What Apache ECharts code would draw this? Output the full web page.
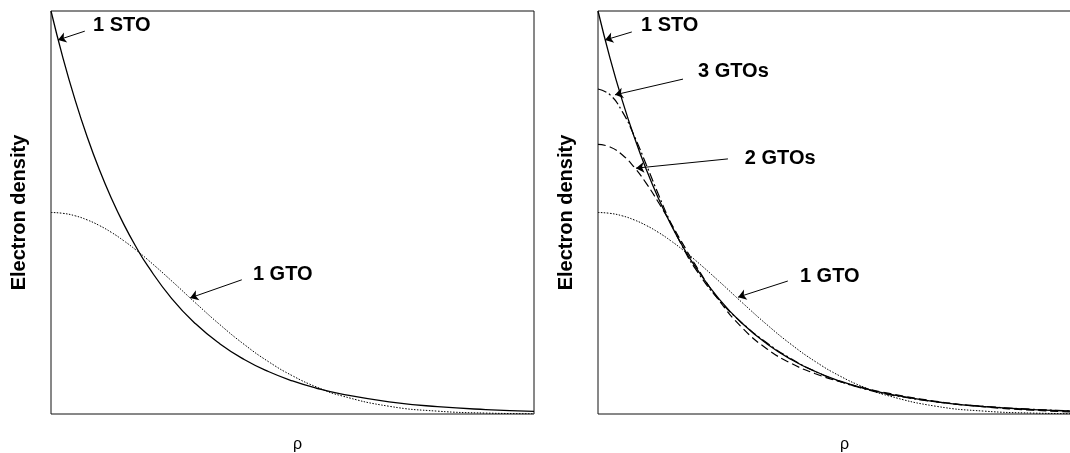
<!DOCTYPE html>
<html>
<head>
<meta charset="utf-8">
<script src="https://cdn.jsdelivr.net/npm/echarts@6/dist/echarts.min.js"></script>
<style>
html,body{margin:0;padding:0;background:#fff;}
#c{width:1070px;height:453px;}
</style>
</head>
<body>
<div id="c"></div>
<script>
// rho (arbitrary units) and relative amplitude values
const rho  = [0,0.25,0.5,0.75,1,1.25,1.5,1.75,2,2.5,3,3.5,4,4.5,5,5.5,6,7,8,9,10];
const sto  = [1,0.8825,0.7788,0.6873,0.6065,0.5353,0.4724,0.4169,0.3679,0.2865,0.2231,0.1738,0.1353,0.1054,0.0821,0.0639,0.0498,0.0302,0.0183,0.0111,0.0067];
const gto1 = [0.5,0.4979,0.4918,0.4816,0.4678,0.4507,0.4305,0.4079,0.3832,0.3300,0.2748,0.2214,0.1726,0.1301,0.0948,0.0669,0.0456,0.0192,0.0071,0.0023,0.0006];
const gto2 = [0.669,0.6627,0.6432,0.6124,0.5722,0.5254,0.4752,0.4234,0.3731,0.2830,0.2123,0.1615,0.1256,0.1000,0.0807,0.0650,0.0519,0.0315,0.0179,0.0094,0.0046];
const gto3 = [0.8065,0.7919,0.7510,0.6902,0.6187,0.5451,0.4758,0.4150,0.3634,0.2836,0.2243,0.1761,0.1369,0.1055,0.0811,0.0627,0.0488,0.0303,0.0190,0.0117,0.0069];

const xTitle = 'ρ';
const yTitle = 'Electron density';

// annotations: [panel, text, textX, textY, arrowFromX, arrowFromY, arrowTipX, arrowTipY]
const notes = [
  [0, '1 STO', 0.87, 0.963, 0.70, 0.950, 0.145, 0.928],
  [0, '1 GTO', 4.18, 0.345, 3.95, 0.333, 2.88, 0.288],
  [1, '1 STO', 0.89, 0.963, 0.70, 0.948, 0.145, 0.928],
  [1, '3 GTOs', 2.07, 0.849, 1.76, 0.831, 0.352, 0.792],
  [1, '2 GTOs', 3.04, 0.635, 2.69, 0.633, 0.787, 0.610],
  [1, '1 GTO', 4.18, 0.342, 3.93, 0.330, 2.90, 0.290]
];

const pts = arr => rho.map((x, i) => [x, arr[i]]);
const FONT = "'Liberation Sans', Arial, sans-serif";

const grids = [
  {left: 51, top: 11, width: 483, height: 403},
  {left: 598, top: 11, width: 483, height: 403}
].map(g => Object.assign(g, {show: true, borderColor: '#111', borderWidth: 1, backgroundColor: 'transparent', containLabel: false, outerBoundsMode: 'none'}));

const xAxes = [0, 1].map(i => ({
  gridIndex: i, type: 'value', min: 0, max: 10,
  axisLine: {show: false}, axisTick: {show: false}, axisLabel: {show: false}, splitLine: {show: false},
  name: xTitle, nameLocation: 'middle', nameGap: 23,
  nameTextStyle: {fontFamily: FONT, fontSize: 16, color: '#000', padding: [0, 0, 0, 10]}
}));
const yAxes = [0, 1].map(i => ({
  gridIndex: i, type: 'value', min: 0, max: 1,
  axisLine: {show: false}, axisTick: {show: false}, axisLabel: {show: false}, splitLine: {show: false},
  name: yTitle, nameLocation: 'middle', nameGap: 22,
  nameTextStyle: {fontFamily: FONT, fontSize: 20, fontWeight: 'bold', color: '#000'}
}));

function lineSeries(i, arr, type, width) {
  return {
    type: 'line', xAxisIndex: i, yAxisIndex: i, data: pts(arr),
    showSymbol: false, smooth: 0.5, silent: true,
    lineStyle: {color: '#000', width: width, type: type}
  };
}

const series = [
  lineSeries(0, sto, 'solid', 1.3),
  lineSeries(0, gto1, [1.5, 1.5], 1),
  lineSeries(1, sto, 'solid', 1.3),
  lineSeries(1, gto1, [1.5, 1.5], 1),
  lineSeries(1, gto2, [8, 4], 1.2),
  lineSeries(1, gto3, [9, 3, 2, 3], 1.2)
];

// arrows and labels
[0, 1].forEach(p => {
  series.push({
    type: 'line', xAxisIndex: p, yAxisIndex: p, data: [], silent: true,
    markLine: {
      silent: true, symbol: ['none', 'arrow'], symbolSize: 8,
      label: {show: false},
      lineStyle: {color: '#000', width: 1, type: 'solid', opacity: 1},
      itemStyle: {color: '#000'},
      emphasis: {disabled: true},
      data: notes.filter(n => n[0] === p).map(n => [{coord: [n[4], n[5]]}, {coord: [n[6], n[7]]}])
    }
  });
  series.push({
    type: 'scatter', xAxisIndex: p, yAxisIndex: p, silent: true,
    symbolSize: 0, itemStyle: {opacity: 1, color: '#000'},
    data: notes.filter(n => n[0] === p).map(n => [n[2], n[3], n[1]]),
    label: {
      show: true, position: 'right', distance: 0,
      formatter: q => q.data[2],
      fontFamily: FONT, fontSize: 20, fontWeight: 'bold', color: '#000', opacity: 1,
      align: 'left', verticalAlign: 'middle'
    }
  });
});

const chart = echarts.init(document.getElementById('c'), null, {renderer: 'canvas'});
chart.setOption({
  animation: false,
  backgroundColor: '#fff',
  grid: grids,
  xAxis: xAxes,
  yAxis: yAxes,
  series: series
});
</script>
</body>
</html>
